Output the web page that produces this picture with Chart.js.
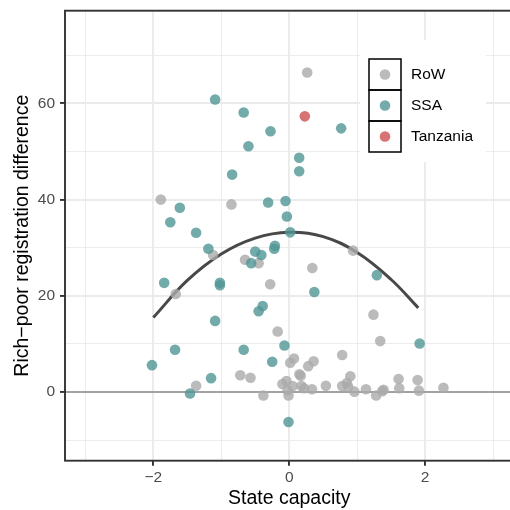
<!DOCTYPE html>
<html>
<head>
<meta charset="utf-8">
<script src="https://cdn.jsdelivr.net/npm/chart.js@4.4.1/dist/chart.umd.min.js"></script>
<style>
  html, body { margin: 0; padding: 0; background: #fff; overflow: hidden; }
  #wrap { width: 514px; height: 510px; }
</style>
</head>
<body>
<div id="wrap"><canvas id="scatter" width="514" height="510"></canvas></div>
<script>
// state capacity (x) vs rich-poor registration difference (y)
const rowX = [-1.89, -0.85, -1.12, -0.65, -0.45, -1.67, 0.265, 0.94, 0.34, -0.28, 1.24, -0.17,
  1.34, 0.78, 0.07, 0.015, 0.36, 0.28, -0.72, -0.57, -1.37, 0.15, 0.17, 0.90, 1.61, 1.89,
  -0.04, -0.10, 0.05, 0.18, 0.22, 0.335, 0.54, 0.78, 0.85, 0.87, 0.96, 1.13, 1.28, 1.37,
  1.39, 1.62, 1.91, 2.27, -0.025, -0.01, -0.38];
const rowY = [40.0, 39.0, 28.5, 27.5, 26.8, 20.4, 66.4, 29.4, 25.8, 22.4, 16.1, 12.6,
  10.6, 7.7, 7.0, 6.1, 6.4, 5.4, 3.5, 3.0, 1.3, 3.7, 3.4, 3.3, 2.7, 2.5,
  2.3, 1.7, 1.25, 1.25, 0.8, 0.6, 1.3, 1.25, 1.9, 1.1, 0.1, 0.6, -0.7, 0.2,
  0.5, 0.8, 0.3, 0.9, 0.4, -0.7, -0.7];

const ssaX = [-1.09, -0.67, -0.60, -0.84, -1.61, -1.75, -1.37, -1.19, -0.50, -0.275, 0.765,
  0.147, 0.147, -0.31, -0.054, -0.034, 0.015, -0.21, -0.22, -0.41, -0.56, -1.84, -1.02,
  -1.02, -1.09, -1.68, -0.67, -2.02, -1.15, -1.46, 1.29, 0.37, -0.39, -0.45, 1.92, -0.07,
  -0.25, -0.01];
const ssaY = [60.8, 58.1, 51.1, 45.2, 38.3, 35.3, 33.1, 29.8, 29.2, 54.2, 54.8,
  48.7, 45.9, 39.4, 39.7, 36.5, 33.2, 30.4, 29.8, 28.5, 26.8, 22.7, 22.7,
  22.2, 14.8, 8.8, 8.8, 5.6, 2.9, -0.3, 24.3, 20.8, 17.9, 16.8, 10.1, 9.7,
  6.3, -6.2];

const tzaX = [0.23];
const tzaY = [57.3];

// quadratic fit line
const fitX = [-2.0, -1.5, -1.0, -0.5, 0.0, 0.5, 1.0, 1.5, 1.9];
const fitY = [15.5, 23.2, 28.7, 32.0, 33.2, 32.3, 29.0, 23.4, 17.5];

const xTickValues = [-3, -2, -1, 0, 1, 2, 3];
const xTickLabels = ['', '\u22122', '', '0', '', '2', ''];
const yTickValues = [-10, 0, 10, 20, 30, 40, 50, 60, 70];
const yTickLabels = ['', '0', '', '20', '', '40', '', '60', ''];

const groupNames = ['RoW', 'SSA', 'Tanzania'];
const groupColors = ['rgba(170,170,170,0.8)', 'rgba(80,150,150,0.8)', 'rgba(205,80,80,0.8)'];

const FONT = '"Liberation Sans", Arial, Helvetica, sans-serif';
const pts = (xs, ys) => xs.map((x, i) => ({ x, y: ys[i] }));

const gridColor = labels => ctx => '#ebebeb';
const gridWidth = labels => ctx => (ctx.tick && labels[ctx.index] !== '' ? 1.9 : 0.95);
const tickCol = labels => ctx => (ctx.tick && labels[ctx.index] !== '' ? '#333333' : 'rgba(0,0,0,0)');

// zero reference line under the points
const zeroLine = {
  id: 'zeroLine',
  beforeDatasetsDraw(chart) {
    const { ctx, chartArea, scales } = chart;
    const y = scales.y.getPixelForValue(0);
    ctx.save();
    ctx.strokeStyle = '#8a8a8a';
    ctx.lineWidth = 1.5;
    ctx.beginPath();
    ctx.moveTo(chartArea.left, y);
    ctx.lineTo(chartArea.right, y);
    ctx.stroke();
    ctx.restore();
  }
};

// panel border and the boxed legend
const panelDecor = {
  id: 'panelDecor',
  afterDraw(chart) {
    const { ctx, chartArea: a } = chart;
    ctx.save();
    ctx.strokeStyle = '#333333';
    ctx.lineWidth = 1.9;
    ctx.strokeRect(a.left, a.top, a.right - a.left, a.bottom - a.top);

    ctx.fillStyle = '#ffffff';
    ctx.fillRect(360, 40, 126, 122);
    ctx.font = '15.5px ' + FONT;
    ctx.textBaseline = 'middle';
    groupNames.forEach((name, i) => {
      const top = 59 + 31 * i;
      ctx.strokeStyle = '#000000';
      ctx.lineWidth = 1.5;
      ctx.strokeRect(369, top, 32, 31);
      ctx.fillStyle = groupColors[i];
      ctx.beginPath();
      ctx.arc(385, top + 15.5, 5.3, 0, Math.PI * 2);
      ctx.fill();
      ctx.fillStyle = '#000000';
      ctx.fillText(name, 411, top + 16);
    });
    ctx.restore();
  }
};

new Chart(document.getElementById('scatter'), {
  type: 'scatter',
  data: {
    datasets: [
      { label: 'Tanzania', data: pts(tzaX, tzaY), backgroundColor: groupColors[2], borderWidth: 0, pointRadius: 5.3, order: 0 },
      { label: 'SSA', data: pts(ssaX, ssaY), backgroundColor: groupColors[1], borderWidth: 0, pointRadius: 5.3, order: 1 },
      { label: 'RoW', data: pts(rowX, rowY), backgroundColor: groupColors[0], borderWidth: 0, pointRadius: 5.3, order: 2 },
      {
        type: 'line', label: 'fit', data: pts(fitX, fitY),
        borderColor: '#484848', borderWidth: 3, pointRadius: 0, tension: 0.4,
        fill: false, order: 3
      }
    ]
  },
  options: {
    responsive: false,
    animation: false,
    // canvas is 514 wide so the panel's right edge sits just past the window
    layout: { autoPadding: false, padding: { left: 0, top: 10.7, right: 0.6, bottom: 0 } },
    plugins: { legend: { display: false }, tooltip: { enabled: false } },
    scales: {
      x: {
        type: 'linear', min: -3.3, max: 3.3,
        afterBuildTicks: s => { s.ticks = xTickValues.map(v => ({ value: v })); },
        afterFit: s => { s.height = 49.3; s.paddingLeft = 0; s.paddingRight = 0; },
        ticks: {
          autoSkip: false, maxRotation: 0, padding: 2.5, color: '#4d4d4d',
          font: { family: FONT, size: 15.5 },
          callback: (v, i) => xTickLabels[i]
        },
        grid: {
          color: gridColor(xTickLabels), lineWidth: gridWidth(xTickLabels),
          tickColor: tickCol(xTickLabels), tickWidth: 1.9, tickLength: 5
        },
        border: { display: false },
        title: {
          display: true, text: 'State capacity', color: '#000000',
          font: { family: FONT, size: 19.5, lineHeight: 1.2 },
          padding: { top: 0, bottom: 0.1 }
        }
      },
      y: {
        type: 'linear', min: -14.25, max: 79.25,
        afterBuildTicks: s => { s.ticks = yTickValues.map(v => ({ value: v })); },
        afterFit: s => { s.width = 65; s.paddingTop = 0; s.paddingBottom = 0; },
        ticks: {
          autoSkip: false, padding: 5, color: '#4d4d4d',
          font: { family: FONT, size: 15.5 },
          callback: (v, i) => yTickLabels[i]
        },
        grid: {
          color: gridColor(yTickLabels), lineWidth: gridWidth(yTickLabels),
          tickColor: tickCol(yTickLabels), tickWidth: 1.9, tickLength: 5
        },
        border: { display: false },
        title: {
          display: true, text: 'Rich\u2212poor registration difference', color: '#000000',
          font: { family: FONT, size: 19.5, lineHeight: 1.2 },
          padding: { top: 10.8, bottom: 0 }
        }
      }
    }
  },
  plugins: [zeroLine, panelDecor]
});
</script>
</body>
</html>
